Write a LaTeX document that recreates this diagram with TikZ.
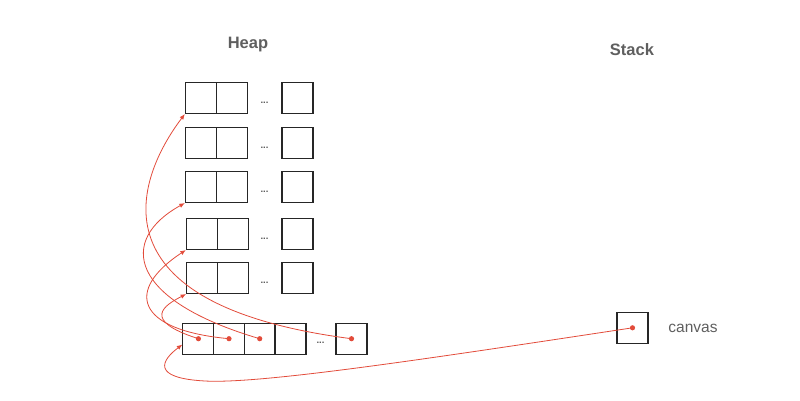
\documentclass[tikz,border=0pt]{standalone}
\usepackage{fontspec}
\setmainfont{Liberation Sans}
\usetikzlibrary{arrows.meta}
\definecolor{ptrred}{RGB}{226,75,58}
\definecolor{labelgray}{RGB}{95,95,95}

\begin{document}
\begin{tikzpicture}[x=1pt,y=-1pt,
  cell/.style={draw=black!85,line width=1.1pt,minimum size=31pt,inner sep=0pt},
  ptr/.style={ptrred,line width=0.8pt,-{Latex[length=5.5pt,width=4.5pt]}},
  title/.style={font=\bfseries\fontsize{16.5}{18}\selectfont,text=labelgray},
  more/.style={font=\bfseries\fontsize{9.5}{9.5}\selectfont,text=black!65}]
  \useasboundingbox (0,0) rectangle (800,400);

  % titles
  \node[title] (heap) at (248,45) {Heap};
  \node[title] (stack) at (632,50) {Stack};

  % heap rows
  \foreach \r/\y/\dx in {1/98/0,2/143/0,3/187/0,4/234/1,5/278/1.3}{
    \node[cell] (r\r a) at (200.9+\dx,\y) {};
    \node[cell] (r\r b) at (231.9+\dx,\y) {};
    \node[cell] (r\r n) at (297.5,\y) {};
    \node[more] (r\r d) at (264.5,\y+5) {...};
  }

  % array of references
  \foreach \i/\x in {1/198.4,2/229,3/259.7,4/290.5}{
    \node[cell] (b\i) at (\x,338.7) {};
  }
  \node[more] (bd) at (320.5,343) {...};
  \node[cell] (bn) at (351.5,338.7) {};

  % stack
  \node[cell] (canvas) at (632.5,327.8) {};
  \node[font=\fontsize{15.5}{18}\selectfont,text=labelgray] (canvaslbl) at (693,328) {canvas};

  % pointers
  \coordinate (loop) at (205,381);
  \draw[ptr] (b1.center) .. controls (140,320) and (165,305) .. (r5a.south west);
  \draw[ptr] (b2.center) .. controls (135,330) and (125,290) .. (r4a.south west);
  \draw[ptr] (b3.center) .. controls (128,300) and (118,240) .. (r3a.south west);
  \draw[ptr] (bn.center) .. controls (90,305) and (135,180) .. (r1a.south west);
  \draw[ptr] (canvas.center) .. controls (420,360) and (260,384) .. (loop)
    .. controls (150,378) and (162,360) .. (b1.200);

  % dots
  \foreach \n in {b1,b2,b3,bn,canvas}{
    \fill[ptrred] (\n.center) circle (2.6);
  }
\end{tikzpicture}
\end{document}
